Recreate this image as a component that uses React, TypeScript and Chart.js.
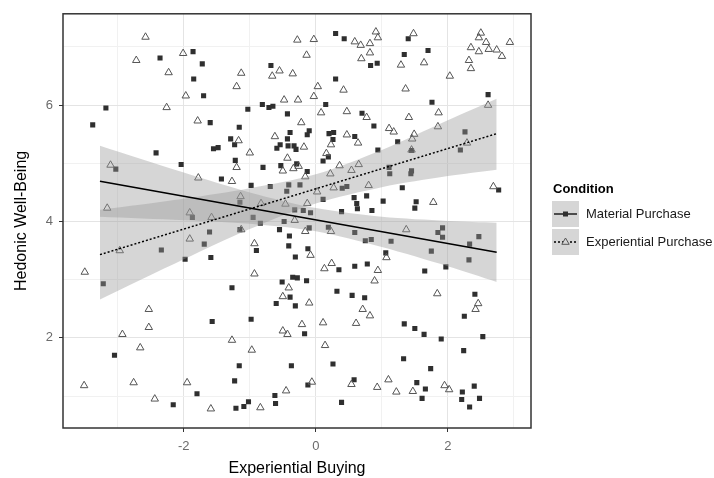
import React, { useEffect, useRef } from "react";
import { Chart, registerables } from "chart.js";

Chart.register(...registerables);

// ---- axis ticks / ranges ----
const X_TICKS = [-3, -2, -1, 0, 1, 2, 3];
const X_LABELED = [-2, 0, 2];
const Y_TICKS = [1, 2, 3, 4, 5, 6, 7];
const Y_LABELED = [2, 4, 6];
const X_RANGE = [-3.83, 3.26];
const Y_RANGE = [0.45, 7.57];

const X_TITLE = "Experiential Buying";
const Y_TITLE = "Hedonic Well-Being";
const LEGEND_TITLE = "Condition";
const SERIES_NAMES = ["Material Purchase", "Experiential Purchase"];

// ---- scatter data (Experiential Buying, Hedonic Well-Being) ----
const materialPoints: [number, number][] = [
  [-2.36, 6.81], [-1.86, 6.92], [-1.72, 6.71], [-1.85, 6.45], [-1.70, 6.16],
  [-3.18, 5.95], [-3.38, 5.66], [-1.60, 5.70], [-1.55, 5.25], [-1.48, 5.27],
  [-2.42, 5.18], [-2.04, 4.98], [-3.03, 4.90], [-1.87, 4.07],
  [0.30, 7.23], [0.43, 7.14], [-0.68, 6.68], [0.83, 6.68], [0.30, 6.45],
  [-1.03, 5.93], [-0.81, 6.01], [-0.71, 5.96], [-0.65, 5.98], [0.15, 6.01],
  [-0.43, 5.85], [0.70, 5.86], [-1.16, 5.62], [-1.29, 5.42], [-1.23, 5.32],
  [-0.39, 5.53], [-0.10, 5.56], [-0.13, 5.49], [-0.43, 5.42], [-0.54, 5.32],
  [-0.59, 5.26], [-0.42, 5.30], [-0.33, 5.30], [-0.30, 5.24], [0.20, 5.51],
  [0.27, 5.53], [0.26, 5.41], [0.59, 5.46], [0.19, 5.11], [0.11, 5.04],
  [-1.22, 5.05], [-0.80, 4.93], [-0.53, 4.96], [-0.29, 4.99], [-0.13, 4.86],
  [-1.43, 4.73], [-0.98, 4.62], [-0.69, 4.60], [-0.41, 4.63], [-0.24, 4.63],
  [-0.44, 4.52], [0.40, 4.57], [0.47, 4.60], [0.58, 4.41], [0.62, 4.31],
  [0.63, 4.22], [0.77, 4.44], [0.85, 4.19], [0.11, 4.38], [0.39, 4.17],
  [-1.15, 4.33], [-0.32, 4.20], [-0.19, 4.19], [-0.95, 4.07], [-0.08, 4.15],
  [1.40, 7.14], [1.70, 6.94], [1.34, 6.87], [0.93, 6.72], [2.61, 6.18],
  [1.76, 6.05], [0.88, 5.64], [1.24, 5.37], [2.26, 5.54], [2.19, 5.23],
  [0.94, 5.23], [1.45, 5.22], [1.11, 4.93], [1.12, 4.82], [1.45, 4.87],
  [1.44, 4.82], [1.31, 4.58], [2.77, 4.54], [1.02, 4.35], [1.52, 4.34],
  [1.50, 4.23],
  [-1.61, 3.82], [-1.69, 3.61], [-2.34, 3.51], [-1.98, 3.35], [-1.59, 3.38],
  [-3.22, 2.93], [-1.57, 2.28], [-3.05, 1.70], [-1.80, 1.04], [-2.16, 0.85],
  [-1.15, 3.86], [-0.84, 3.97], [-0.48, 4.00], [-0.55, 3.86], [-0.10, 3.89],
  [0.19, 3.90], [0.59, 3.81], [0.75, 3.67], [0.84, 3.69], [-0.40, 3.75],
  [-0.41, 3.58], [-0.90, 3.50], [-0.12, 3.53], [-0.31, 3.39], [0.35, 3.17],
  [0.59, 3.23], [0.78, 3.27], [-0.35, 3.04], [-0.28, 3.03], [-0.14, 2.98],
  [-0.51, 2.96], [-1.27, 2.86], [-0.39, 2.70], [-0.60, 2.59], [-0.31, 2.55],
  [0.32, 2.80], [0.55, 2.73], [0.74, 2.69], [-0.98, 2.32], [-0.17, 2.07],
  [-1.16, 1.52], [-0.37, 1.52], [0.26, 1.55], [-1.23, 1.26], [-0.12, 1.19],
  [0.58, 1.28], [-0.62, 1.01], [-0.61, 0.87], [-1.02, 0.90], [-1.09, 0.82],
  [-1.21, 0.79], [0.39, 0.89],
  [1.92, 3.89], [1.85, 3.81], [1.92, 3.73], [1.14, 3.66], [2.47, 3.74],
  [2.33, 3.61], [1.75, 3.49], [1.06, 3.46], [2.32, 3.34], [1.97, 3.22],
  [1.65, 3.15], [2.41, 2.75], [2.25, 2.37], [1.34, 2.24], [1.50, 2.16],
  [1.64, 2.06], [1.90, 1.98], [2.53, 2.02], [2.24, 1.78], [1.33, 1.64],
  [1.74, 1.47], [1.53, 1.23], [1.66, 1.12], [1.61, 0.96], [2.22, 1.07],
  [2.40, 1.17], [2.21, 0.94], [2.48, 0.96], [2.33, 0.81],
];

const experientialPoints: [number, number][] = [
  [-2.58, 7.17], [-2.72, 6.77], [-2.01, 6.89], [-2.23, 6.56], [-1.97, 6.16],
  [-2.26, 5.96], [-1.79, 5.73], [-3.11, 4.97], [-1.78, 4.75], [-3.16, 4.23],
  [-1.91, 4.15], [-1.58, 4.07],
  [-0.28, 7.12], [-0.03, 7.13], [-0.14, 6.86], [-1.13, 6.55], [-0.55, 6.59],
  [-0.66, 6.50], [-0.35, 6.54], [-1.20, 6.32], [0.03, 6.32], [0.42, 6.26],
  [-0.48, 6.09], [-0.27, 6.09], [-0.03, 6.15], [0.08, 5.87], [0.47, 5.89],
  [0.77, 5.79], [-0.22, 5.70], [-0.62, 5.46], [-1.17, 5.39], [-0.18, 5.28],
  [0.47, 5.49], [0.64, 5.35], [0.23, 5.32], [-1.00, 5.18], [0.16, 5.17],
  [-0.43, 5.09], [-1.20, 4.93], [-0.50, 4.87], [-0.34, 4.91], [-0.26, 4.95],
  [0.36, 4.96], [0.65, 4.98], [0.54, 4.88], [0.22, 4.82], [-0.16, 4.77],
  [-1.27, 4.69], [0.80, 4.62], [0.27, 4.58], [-1.14, 4.43], [0.02, 4.51],
  [-0.83, 4.31], [-0.46, 4.30], [-0.13, 4.31], [0.59, 7.09], [0.68, 7.03],
  [0.82, 7.06], [0.69, 6.80], [0.82, 6.90],
  [0.91, 7.26], [0.94, 7.16], [1.48, 7.23], [2.50, 7.24], [2.47, 7.16],
  [2.58, 7.08], [2.94, 7.08], [2.35, 6.99], [2.47, 6.92], [2.62, 6.96],
  [2.74, 6.95], [2.82, 6.84], [2.32, 6.77], [2.35, 6.63], [1.29, 6.69],
  [1.64, 6.73], [2.03, 6.50], [1.36, 6.28], [2.61, 6.00], [1.86, 5.87],
  [1.41, 5.79], [1.85, 5.63], [1.11, 5.60], [1.18, 5.54], [1.49, 5.50],
  [1.46, 5.42], [2.29, 5.35], [1.45, 5.23], [2.69, 4.60], [1.78, 4.33],
  [-2.97, 3.50], [-1.91, 3.70], [-3.50, 3.13], [-2.53, 2.49], [-2.53, 2.18],
  [-2.93, 2.06], [-2.66, 1.83], [-3.51, 1.18], [-2.76, 1.23], [-1.95, 1.23],
  [-2.44, 0.95], [-1.59, 0.78],
  [-0.32, 4.02], [-0.16, 3.83], [0.23, 3.83], [-1.13, 3.86], [-0.93, 3.62],
  [-0.08, 3.42], [0.13, 3.19], [0.24, 3.28], [-0.93, 3.10], [-0.41, 2.86],
  [-0.50, 2.71], [-0.10, 2.60], [0.71, 2.49], [0.82, 2.38], [-0.21, 2.23],
  [0.11, 2.26], [0.61, 2.25], [-0.50, 2.12], [-0.43, 2.06], [-1.27, 1.96],
  [-0.97, 1.79], [0.14, 1.87], [-0.06, 1.24], [0.54, 1.20], [-0.45, 1.09],
  [-0.84, 0.80],
  [1.37, 3.86], [1.07, 3.38], [0.94, 3.16], [0.89, 2.98], [1.84, 2.76],
  [2.46, 2.59], [2.42, 2.49], [1.10, 1.28], [0.93, 1.15], [1.22, 1.07],
  [1.47, 1.08], [1.95, 1.18], [2.02, 1.11],
];

// ---- fitted lines and confidence bands ----
const fitX = [-3.27, 2.74];
const materialFitY = [4.69, 3.47];
const experientialFitY = [3.43, 5.51];

const bandX = [-3.27, -2, -1, 0, 1, 2, 2.74];
const materialUpper = [5.30, 4.84, 4.50, 4.23, 4.08, 4.01, 3.98];
const materialLower = [4.08, 4.02, 3.96, 3.83, 3.56, 3.23, 2.96];
const experientialUpper = [4.20, 4.39, 4.57, 4.81, 5.23, 5.74, 6.11];
const experientialLower = [2.66, 3.35, 3.87, 4.31, 4.59, 4.78, 4.89];

const FONT = "'Liberation Sans', Arial, Helvetica, sans-serif";
const BAND_FILL = "rgba(153,153,153,0.4)";
const SQUARE_COLOR = "#2f2f2f";
const TRIANGLE_COLOR = "#555555";

const toXY = (xs: number[], ys: number[]) => xs.map((x, i) => ({ x, y: ys[i] }));

const panelAndLegend = {
  id: "panelAndLegend",
  afterDraw(chart: any) {
    const { ctx, chartArea } = chart;
    ctx.save();
    // panel border
    ctx.strokeStyle = "#333";
    ctx.lineWidth = 1.5;
    ctx.strokeRect(chartArea.left, chartArea.top, chartArea.right - chartArea.left, chartArea.bottom - chartArea.top);

    // legend
    const lx = chartArea.right + 21;
    ctx.fillStyle = "#000";
    ctx.font = `bold 13px ${FONT}`;
    ctx.textAlign = "left";
    ctx.textBaseline = "middle";
    ctx.fillText(LEGEND_TITLE, lx + 1, 189);

    const keyW = 27;
    const keyH = 26;
    const rows = [201, 229];
    rows.forEach((top, i) => {
      ctx.fillStyle = "#d6d6d6";
      ctx.fillRect(lx, top, keyW, keyH);
      const cy = top + keyH / 2;
      ctx.beginPath();
      ctx.strokeStyle = "#000";
      ctx.lineWidth = 1.3;
      ctx.setLineDash(i === 0 ? [] : [2, 2]);
      ctx.moveTo(lx + 2, cy);
      ctx.lineTo(lx + keyW - 2, cy);
      ctx.stroke();
      ctx.setLineDash([]);
      const mx = lx + keyW / 2;
      if (i === 0) {
        ctx.fillStyle = SQUARE_COLOR;
        ctx.fillRect(mx - 2.5, cy - 2.5, 5, 5);
      } else {
        ctx.beginPath();
        ctx.strokeStyle = TRIANGLE_COLOR;
        ctx.lineWidth = 1;
        ctx.moveTo(mx, cy - 4);
        ctx.lineTo(mx + 3.7, cy + 2.3);
        ctx.lineTo(mx - 3.7, cy + 2.3);
        ctx.closePath();
        ctx.fillStyle = "#d6d6d6";
        ctx.fill();
        ctx.stroke();
      }
      ctx.fillStyle = "#1a1a1a";
      ctx.font = `13px ${FONT}`;
      ctx.textBaseline = "middle";
      ctx.fillText(SERIES_NAMES[i], lx + 34, cy);
    });
    ctx.restore();
  },
};

export default function App() {
  const canvasRef = useRef<HTMLCanvasElement | null>(null);

  useEffect(() => {
    const canvas = canvasRef.current;
    if (!canvas) return;
    const chart = new Chart(canvas, {
      type: "scatter",
      data: {
        datasets: [
          {
            label: SERIES_NAMES[0],
            data: materialPoints.map(([x, y]) => ({ x, y })),
            pointStyle: "rect",
            pointRadius: 3.6,
            backgroundColor: SQUARE_COLOR,
            borderColor: SQUARE_COLOR,
            borderWidth: 0,
            order: 6,
          },
          {
            label: SERIES_NAMES[1],
            data: experientialPoints.map(([x, y]) => ({ x, y })),
            pointStyle: "triangle",
            pointRadius: 4.3,
            backgroundColor: "rgba(0,0,0,0)",
            borderColor: TRIANGLE_COLOR,
            borderWidth: 1,
            order: 5,
          },
          {
            label: "material upper",
            data: toXY(bandX, materialUpper),
            showLine: true,
            pointRadius: 0,
            borderColor: "transparent",
            borderWidth: 0,
            backgroundColor: BAND_FILL,
            fill: "+1",
            tension: 0.3,
            order: 3,
          },
          {
            label: "material lower",
            data: toXY(bandX, materialLower),
            showLine: true,
            pointRadius: 0,
            borderColor: "transparent",
            borderWidth: 0,
            fill: false,
            tension: 0.3,
            order: 3,
          },
          {
            label: "experiential upper",
            data: toXY(bandX, experientialUpper),
            showLine: true,
            pointRadius: 0,
            borderColor: "transparent",
            borderWidth: 0,
            backgroundColor: BAND_FILL,
            fill: "+1",
            tension: 0.3,
            order: 3,
          },
          {
            label: "experiential lower",
            data: toXY(bandX, experientialLower),
            showLine: true,
            pointRadius: 0,
            borderColor: "transparent",
            borderWidth: 0,
            fill: false,
            tension: 0.3,
            order: 3,
          },
          {
            label: "material fit",
            data: toXY(fitX, materialFitY),
            showLine: true,
            pointRadius: 0,
            borderColor: "#000",
            borderWidth: 1.5,
            fill: false,
            order: 1,
          },
          {
            label: "experiential fit",
            data: toXY(fitX, experientialFitY),
            showLine: true,
            pointRadius: 0,
            borderColor: "#000",
            borderWidth: 1.5,
            borderDash: [2, 2],
            fill: false,
            order: 1,
          },
        ],
      },
      options: {
        animation: false,
        responsive: false,
        devicePixelRatio: 1,
        events: [],
        layout: { padding: { top: 13, right: 183, left: 0, bottom: 0 } },
        plugins: {
          legend: { display: false },
          tooltip: { enabled: false },
          title: { display: false },
        },
        scales: {
          x: {
            type: "linear",
            min: X_RANGE[0],
            max: X_RANGE[1],
            border: { display: false },
            afterBuildTicks: (scale: any) => {
              scale.ticks = X_TICKS.map((v) => ({ value: v }));
            },
            afterFit: (scale: any) => {
              scale.height = 50;
            },
            grid: {
              color: (c: any) => (X_LABELED.includes(c.tick?.value) ? "#e4e4e4" : "#f1f1f1"),
              tickColor: (c: any) => (X_LABELED.includes(c.tick?.value) ? "#333" : "rgba(0,0,0,0)"),
              tickLength: 4,
              lineWidth: 1,
            },
            ticks: {
              autoSkip: false,
              maxRotation: 0,
              padding: 7,
              color: "#6b6b6b",
              font: { family: FONT, size: 13 },
              callback: (v: any) => (X_LABELED.includes(Number(v)) ? String(v) : ""),
            },
            title: {
              display: true,
              text: X_TITLE,
              color: "#000",
              font: { family: FONT, size: 16 },
              padding: { top: 0, bottom: 0 },
            },
          },
          y: {
            type: "linear",
            min: Y_RANGE[0],
            max: Y_RANGE[1],
            border: { display: false },
            afterBuildTicks: (scale: any) => {
              scale.ticks = Y_TICKS.map((v) => ({ value: v }));
            },
            afterFit: (scale: any) => {
              scale.width = 63;
            },
            grid: {
              color: (c: any) => (Y_LABELED.includes(c.tick?.value) ? "#e4e4e4" : "#f1f1f1"),
              tickColor: (c: any) => (Y_LABELED.includes(c.tick?.value) ? "#333" : "rgba(0,0,0,0)"),
              tickLength: 4,
              lineWidth: 1,
            },
            ticks: {
              autoSkip: false,
              padding: 6,
              color: "#6b6b6b",
              font: { family: FONT, size: 13 },
              callback: (v: any) => (Y_LABELED.includes(Number(v)) ? String(v) : ""),
            },
            title: {
              display: true,
              text: Y_TITLE,
              color: "#000",
              font: { family: FONT, size: 16 },
              padding: { top: 12, bottom: 0 },
            },
          },
        },
      },
      plugins: [panelAndLegend],
    } as any);
    return () => chart.destroy();
  }, []);

  return (
    <div style={{ position: "fixed", left: 0, top: 0, width: 714, height: 478, background: "#fff" }}>
      <canvas ref={canvasRef} width={714} height={478} style={{ display: "block" }} />
    </div>
  );
}
